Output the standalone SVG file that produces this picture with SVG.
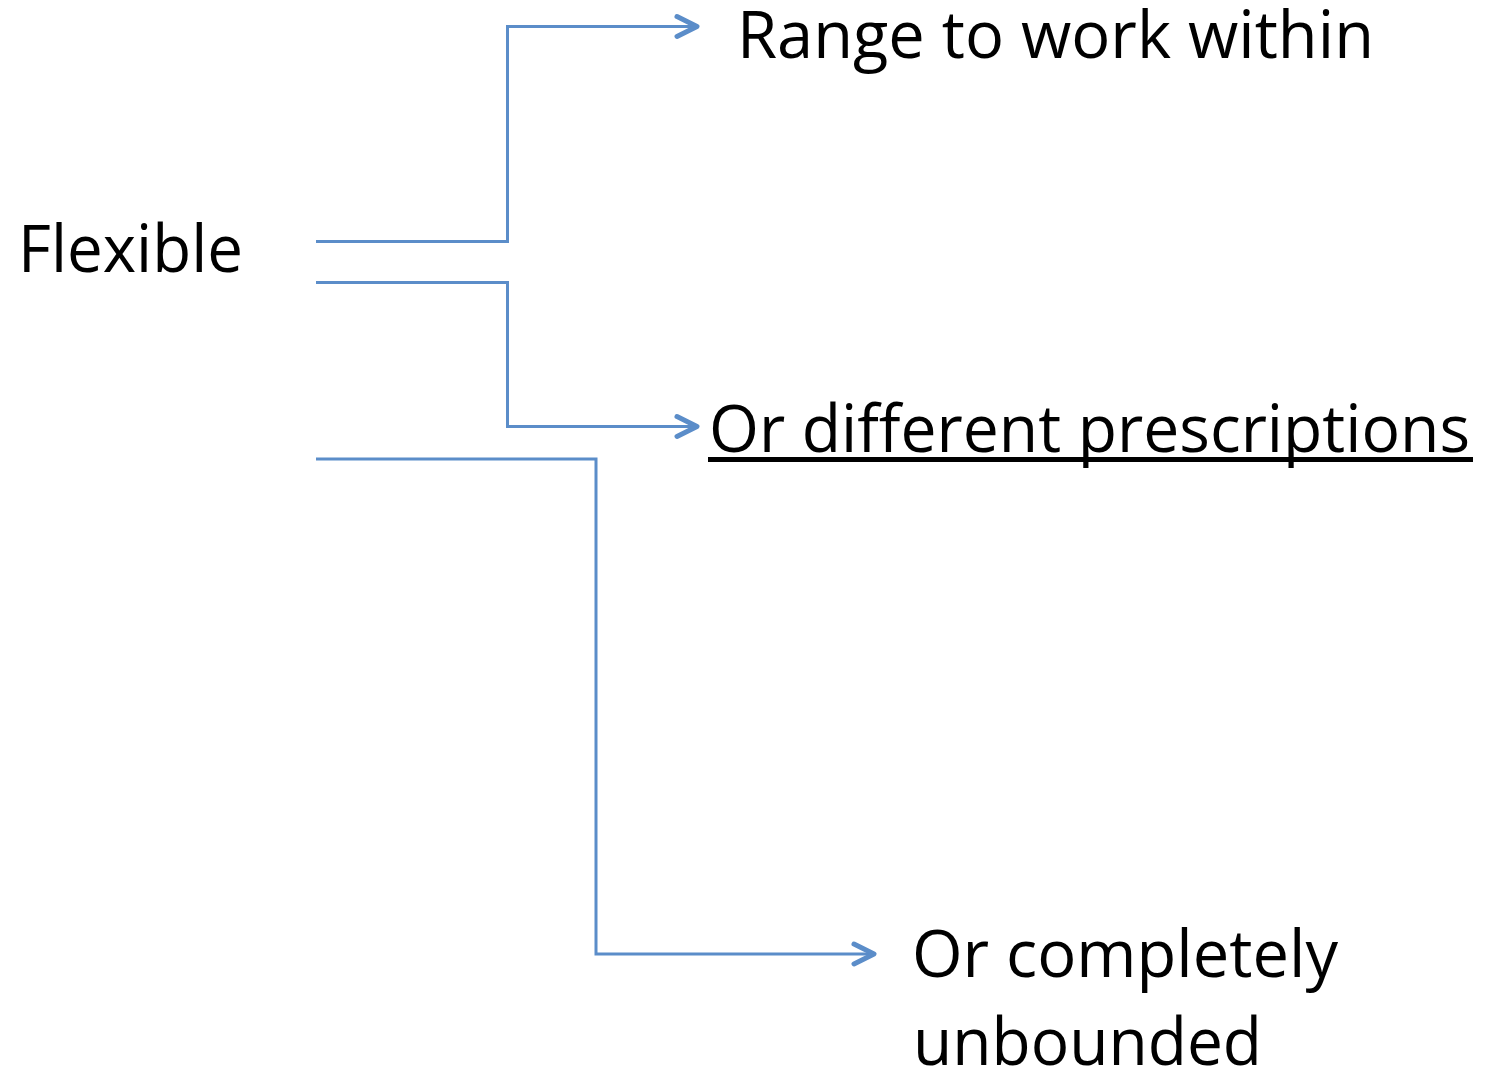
<svg xmlns="http://www.w3.org/2000/svg" width="1499" height="1071" viewBox="0 0 1499 1071">
  <style>
    .lbl { font-family: "Open Sans", "Liberation Sans", sans-serif; font-size: 66px; fill: #000; }
    .conn { fill: none; stroke: #5b8dc9; stroke-width: 3; }
  </style>
  <defs>
    <marker id="arrow" markerUnits="userSpaceOnUse" markerWidth="30" markerHeight="30" viewBox="-25 -15 30 30" refX="0" refY="0" orient="auto">
      <polyline points="-20,-10 0,0 -20,10" fill="none" stroke="#5b8dc9" stroke-width="5" stroke-linecap="round" stroke-linejoin="round"/>
    </marker>
  </defs>
  <rect width="1499" height="1071" fill="#fff"/>

  <!-- connectors -->
  <g id="connectors">
    <path class="conn" d="M316,241.5 H507.5 V26.5 H697" marker-end="url(#arrow)"/>
    <path class="conn" d="M316,282.5 H507.5 V426.5 H697" marker-end="url(#arrow)"/>
    <path class="conn" d="M316,459 H596 V954 H874" marker-end="url(#arrow)"/>
  </g>

  <!-- nodes -->
  <g id="flexible">
    <text class="lbl" x="18" y="272" textLength="225" lengthAdjust="spacingAndGlyphs">Flexible</text>
  </g>
  <g id="range">
    <text class="lbl" x="737" y="58" textLength="637" lengthAdjust="spacingAndGlyphs">Range to work within</text>
  </g>
  <g id="prescriptions">
    <text class="lbl" x="709" y="452" textLength="761" lengthAdjust="spacingAndGlyphs">Or different prescriptions</text>
    <rect x="708" y="457" width="765" height="5" fill="#000"/>
  </g>
  <g id="unbounded">
    <text class="lbl" x="912" y="977" textLength="426" lengthAdjust="spacingAndGlyphs">Or completely</text>
    <text class="lbl" x="913" y="1065" textLength="349" lengthAdjust="spacingAndGlyphs">unbounded</text>
  </g>
</svg>
